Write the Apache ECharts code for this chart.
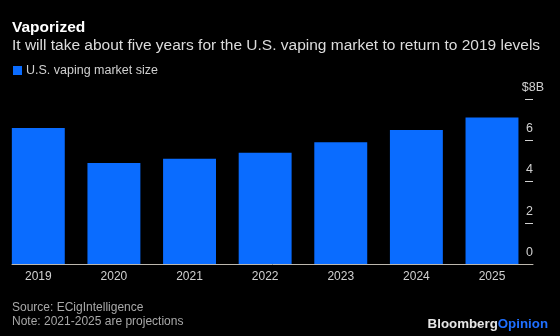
<!DOCTYPE html>
<html>
<head>
<meta charset="utf-8">
<style>
  html, body { margin: 0; padding: 0; background: #000; }
  #chart { width: 560px; height: 336px; }
</style>
<script src="https://cdn.jsdelivr.net/npm/echarts@6/dist/echarts.min.js"></script>
</head>
<body>
<div id="chart"></div>
<script>
// U.S. vaping market size, billions of dollars (2021-2025 projected)
const years = ['2019', '2020', '2021', '2022', '2023', '2024', '2025'];
const marketSize = [6.6, 4.9, 5.1, 5.4, 5.9, 6.5, 7.1];
const valueTicks = [0, 2, 4, 6, 8];

const FONT = '"Liberation Sans", Arial, Helvetica, sans-serif';
const BLUE = '#0a6cff';
const LABEL = '#d0d0d0';
const V_MIN = valueTicks[0];
const V_MAX = valueTicks[valueTicks.length - 1];
const V_STEP = valueTicks[1] - valueTicks[0];

const chart = echarts.init(document.getElementById('chart'), null, { renderer: 'canvas' });

chart.setOption({
  backgroundColor: '#000',
  animation: false,
  textStyle: { fontFamily: FONT },
  title: [
    {
      text: 'Vaporized', left: 12, top: 19, padding: 0,
      textStyle: { color: '#fff', fontSize: 15.5, fontWeight: 'bold', lineHeight: 18, fontFamily: FONT }
    },
    {
      text: 'It will take about five years for the U.S. vaping market to return to 2019 levels',
      left: 12, top: 36, padding: 0,
      textStyle: { color: '#dcdcdc', fontSize: 15.5, fontWeight: 'normal', lineHeight: 20, fontFamily: FONT }
    },
    {
      text: 'Source: ECigIntelligence\nNote: 2021-2025 are projections',
      left: 12, top: 301, padding: 0,
      textStyle: { color: '#a8a8a8', fontSize: 12, fontWeight: 'normal', lineHeight: 14, fontFamily: FONT }
    },
    {
      text: '{a|Bloomberg}{b|Opinion}',
      right: 12, top: 316, padding: 0,
      textStyle: {
        lineHeight: 16,
        rich: {
          a: { color: '#e6e6e6', fontSize: 13.3, fontWeight: 'bold', fontFamily: FONT },
          b: { color: '#1f6fff', fontSize: 13.3, fontWeight: 'bold', fontFamily: FONT }
        }
      }
    }
  ],
  legend: {
    left: 13, top: 64, padding: 0,
    icon: 'rect', itemWidth: 9, itemHeight: 9, itemGap: 10,
    textStyle: { color: LABEL, fontSize: 12.5, fontFamily: FONT, padding: [0, 0, 0, -1] },
    data: ['U.S. vaping market size']
  },
  grid: [
    // bars
    { left: 0.5, right: 30.2, top: 99, bottom: 72 },
    // baseline
    { left: 12, right: 27, top: 99, bottom: 72 },
    // value scale: short dashes at each step, labels above them
    { left: 525, right: 27, top: 99, bottom: 72 }
  ],
  xAxis: [
    {
      type: 'category', gridIndex: 0, data: years,
      axisLine: { show: false }, axisTick: { show: false },
      axisLabel: { color: LABEL, fontSize: 12, margin: 7, fontFamily: FONT }
    },
    {
      type: 'value', gridIndex: 1, min: 0, max: 1,
      axisLine: { show: true, lineStyle: { color: '#bdb8ae', width: 1 } },
      axisTick: { show: false }, axisLabel: { show: false }, splitLine: { show: false }
    },
    {
      type: 'value', gridIndex: 2, min: 0, max: 1, show: false
    }
  ],
  yAxis: [
    { type: 'value', gridIndex: 0, min: V_MIN, max: V_MAX, interval: V_STEP, show: false },
    { type: 'value', gridIndex: 1, min: V_MIN, max: V_MAX, interval: V_STEP, show: false },
    {
      type: 'value', gridIndex: 2, position: 'right',
      min: V_MIN, max: V_MAX, interval: V_STEP,
      axisLine: { show: false },
      axisTick: { show: false },
      splitLine: { show: true, lineStyle: { color: LABEL, width: 1 } },
      axisLabel: {
        margin: 11, align: 'right', verticalAlign: 'bottom',
        padding: [0, 0, 5, 0],
        color: LABEL, fontSize: 12.5, fontFamily: FONT,
        // digits line up at the dash ends; the unit letter on the top label hangs past them
        formatter: v => (v === V_MAX ? '$' + v + 'B' : v + '{s| }'),
        rich: { s: { width: 11, fontSize: 12.5, fontFamily: FONT } }
      }
    }
  ],
  series: [
    {
      name: 'U.S. vaping market size',
      type: 'bar', xAxisIndex: 0, yAxisIndex: 0,
      data: marketSize,
      barWidth: '70%',
      itemStyle: { color: BLUE }
    }
  ]
});
</script>
</body>
</html>
